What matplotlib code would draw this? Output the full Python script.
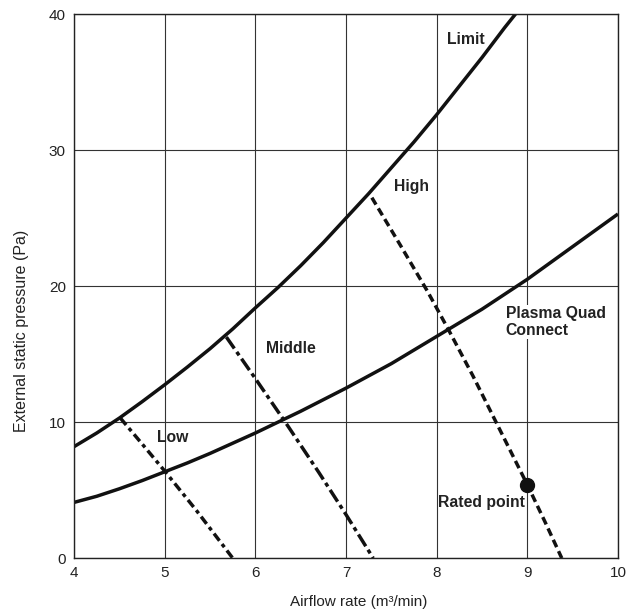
import matplotlib
matplotlib.use("Agg")
import matplotlib.pyplot as plt

plt.rcParams['font.family'] = ['Liberation Sans', 'DejaVu Sans']
plt.rcParams['lines.scale_dashes'] = False

# curves (airflow m3/min, pressure Pa)
limit_x = [4.0, 4.25, 4.5, 4.75, 5.0, 5.25, 5.5, 5.75, 6.0, 6.25, 6.5, 6.75,
           7.0, 7.25, 7.5, 7.75, 8.0, 8.25, 8.5, 8.75, 8.87]
limit_y = [8.2, 9.2, 10.3, 11.5, 12.75, 14.05, 15.4, 16.85, 18.4, 19.9, 21.5, 23.2,
           25.0, 26.8, 28.7, 30.6, 32.6, 34.7, 36.8, 39.0, 40.0]

pqc_x = [4.0, 4.25, 4.5, 4.75, 5.0, 5.25, 5.5, 5.75, 6.0, 6.25, 6.5, 6.75, 7.0,
         7.25, 7.5, 7.75, 8.0, 8.25, 8.5, 8.75, 9.0, 9.25, 9.5, 9.75, 10.0]
pqc_y = [4.1, 4.55, 5.1, 5.7, 6.35, 7.0, 7.7, 8.45, 9.2, 10.0, 10.8, 11.65, 12.5,
         13.4, 14.3, 15.3, 16.3, 17.3, 18.3, 19.4, 20.5, 21.7, 22.9, 24.1, 25.3]

low_x = [4.51, 4.75, 5.0, 5.35, 5.75]
low_y = [10.3, 8.4, 6.4, 3.5, 0.0]

mid_x = [5.68, 6.0, 6.35, 6.7, 7.0, 7.3]
mid_y = [16.25, 13.2, 9.8, 6.3, 3.2, 0.0]

high_x = [7.285, 7.6, 7.9, 8.13, 8.4, 8.64, 9.0, 9.2, 9.38]
high_y = [26.5, 23.0, 19.6, 16.8, 13.4, 10.2, 5.4, 2.6, 0.0]

rated_x, rated_y = 9.0, 5.4

fig = plt.figure(figsize=(6.28, 6.10), dpi=100)
ax = fig.add_axes([0.118, 0.085, 0.866, 0.892])

lw = 2.5
ink = '#111111'
ax.plot(limit_x, limit_y, color=ink, lw=lw, solid_capstyle='butt')
ax.plot(pqc_x, pqc_y, color=ink, lw=lw, solid_capstyle='butt')
ax.plot(low_x, low_y, color=ink, lw=lw, dashes=(6.5, 3, 2.8, 3), dash_capstyle='butt')
ax.plot(mid_x, mid_y, color=ink, lw=lw, dashes=(10, 3, 3, 3), dash_capstyle='butt')
ax.plot(high_x, high_y, color=ink, lw=lw, dashes=(5.8, 3.2), dash_capstyle='butt')
ax.plot([rated_x], [rated_y], 'o', color=ink, markersize=10, zorder=5)

tk = dict(fontsize=11.3, fontweight='bold', color='#222222')
ax.text(8.11, 38.1, 'Limit', va='center', ha='left', **tk)
ax.text(7.53, 27.3, 'High', va='center', ha='left', **tk)
ax.text(6.12, 15.4, 'Middle', va='center', ha='left', **tk)
ax.text(4.91, 8.9, 'Low', va='center', ha='left', **tk)
ax.text(8.76, 18.5, 'Plasma Quad\nConnect', va='top', ha='left', linespacing=1.1,
        bbox=dict(facecolor='white', edgecolor='none', pad=1), zorder=4, **tk)
ax.text(8.02, 4.1, 'Rated point', va='center', ha='left', **tk)

ax.set_xlim(4, 10)
ax.set_ylim(0, 40)
ax.set_xticks(range(4, 11))
ax.set_yticks([0, 10, 20, 30, 40])
ax.grid(True, color='#333333', lw=0.8)
ax.set_axisbelow(True)
ax.tick_params(length=0, labelsize=11, colors='#222222', pad=6)
for s in ax.spines.values():
    s.set_color('#222222')
    s.set_linewidth(1.0)

ax.set_xlabel('Airflow rate (m³/min)', fontsize=11, color='#222222')
ax.xaxis.set_label_coords(0.524, -0.068)
ax.set_ylabel('External static pressure (Pa)', fontsize=11.5, color='#222222')
ax.yaxis.set_label_coords(-0.083, 0.417)

fig.savefig('out.png', dpi=100)
